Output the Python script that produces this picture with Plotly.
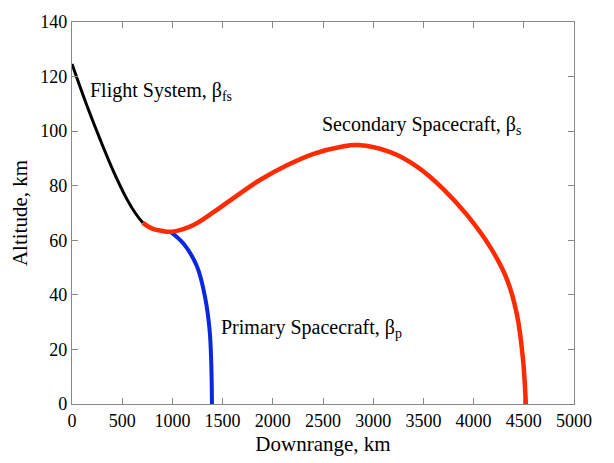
import plotly.graph_objects as go

# Flight system (black)
fs_x = [0, 149, 282, 414, 548, 630, 705]
fs_y = [124.6, 109.3, 96.8, 85.2, 75.0, 70.0, 66.4]

# Secondary spacecraft (red)
sec_x = [705, 800, 900, 981, 1100, 1211, 1410, 1643, 1876, 2141, 2406, 2672, 2850, 3170, 3436, 3701, 3934, 4166, 4332, 4432, 4492, 4515, 4520]
sec_y = [66.4, 64.3, 63.4, 63.1, 64.0, 65.6, 70.3, 76.4, 82.2, 87.5, 91.7, 94.2, 94.9, 92.3, 87.0, 78.7, 69.3, 57.5, 45.7, 32.7, 16.3, 4.0, 0]

# Primary spacecraft (blue)
pri_x = [981, 1112, 1245, 1328, 1371, 1387, 1394]
pri_y = [63.1, 58.7, 50.4, 38.6, 26.9, 15.0, 0]

x_ticks = [0, 500, 1000, 1500, 2000, 2500, 3000, 3500, 4000, 4500, 5000]
y_ticks = [0, 20, 40, 60, 80, 100, 120, 140]

FONT = "Times New Roman, Liberation Serif, DejaVu Serif, serif"

fig = go.Figure()
fig.add_trace(go.Scatter(x=pri_x, y=pri_y, mode="lines",
                         line=dict(color="#0a28e0", width=4, shape="spline", smoothing=1.1)))
fig.add_trace(go.Scatter(x=sec_x, y=sec_y, mode="lines",
                         line=dict(color="#ff2a00", width=4.5, shape="spline", smoothing=1.1)))
fig.add_trace(go.Scatter(x=fs_x, y=fs_y, mode="lines",
                         line=dict(color="black", width=3, shape="spline", smoothing=1.1)))

ann = [
    ("Flight System, β<sub>fs</sub>", 162, 114.5),
    ("Secondary Spacecraft, β<sub>s</sub>", 2473, 102),
    ("Primary Spacecraft, β<sub>p</sub>", 1467, 27.5),
]
for t, x, y in ann:
    fig.add_annotation(x=x, y=y, text=t, showarrow=False, xanchor="left", yanchor="middle",
                       font=dict(family=FONT, size=20, color="black"))

axis_common = dict(showgrid=False, zeroline=False, showline=True, linecolor="#888888",
                   linewidth=1.2, mirror="ticks", ticks="inside", ticklen=6,
                   tickcolor="#888888", tickfont=dict(family=FONT, size=18, color="black"))

fig.update_xaxes(range=[0, 5000], tickvals=x_ticks, **axis_common,
                 title=dict(text="Downrange, km", font=dict(family=FONT, size=21, color="black"), standoff=6))
fig.update_yaxes(range=[0, 140], tickvals=y_ticks, **axis_common,
                 title=dict(text="Altitude, km", font=dict(family=FONT, size=21, color="black"), standoff=6))

fig.update_layout(width=614, height=463, showlegend=False,
                  font=dict(family=FONT),
                  margin=dict(l=72, r=40, t=13, b=54),
                  plot_bgcolor="white", paper_bgcolor="white")

fig.write_html("out.html")
